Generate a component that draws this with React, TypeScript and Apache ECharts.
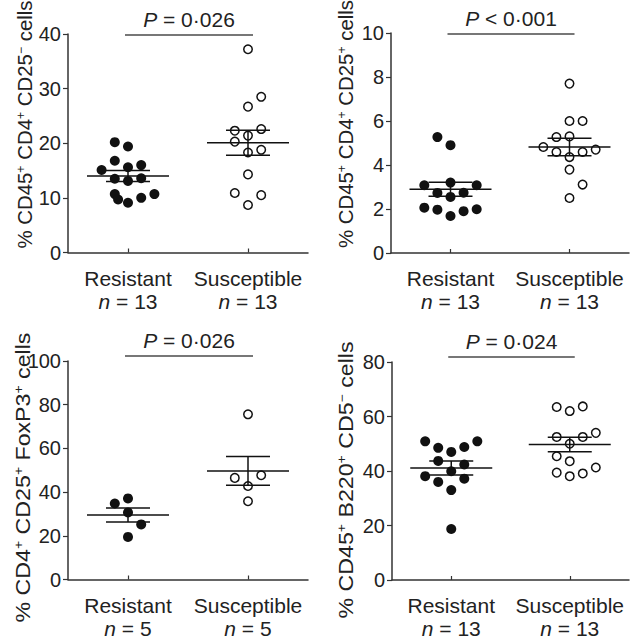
import React, { useEffect, useRef } from "react";
import * as echarts from "echarts";

// ---- data ----
const categories = ["Resistant", "Susceptible"];
const nCounts = [
  [13, 13],
  [13, 13],
  [5, 5],
  [13, 13],
];
const pLabels = ["= 0·026", "< 0·001", "= 0·026", "= 0·024"];
const yMaxes = [40, 10, 100, 80];
const yIntervals = [10, 2, 20, 20];

// Panel A: % CD45+ CD4+ CD25− cells
const aResistant = [20.2, 19.4, 16.8, 15.1, 15.6, 16.0, 13.5, 13.1, 13.6, 10.7, 10.7, 10.0, 9.7, 9.1];
const aSusceptible = [37.2, 28.5, 26.7, 22.3, 22.6, 21.4, 20.3, 18.8, 18.3, 14.3, 10.9, 10.5, 8.7];
// Panel B: % CD45+ CD4+ CD25+ cells
const bResistant = [5.27, 4.9, 3.08, 3.2, 3.08, 2.73, 2.74, 2.55, 2.06, 1.97, 1.99, 1.9, 1.68];
const bSusceptible = [7.7, 6.0, 6.0, 5.27, 5.3, 4.82, 4.7, 4.59, 4.59, 4.36, 3.79, 3.11, 2.5];
// Panel C: % CD4+ CD25+ FoxP3+ cells
const cResistant = [34.8, 37.1, 30.7, 25.2, 19.5];
const cSusceptible = [75.6, 46.5, 47.7, 42.8, 35.8];
// Panel D: % CD45+ B220+ CD5− cells
const dResistant = [50.9, 50.9, 48.5, 48.8, 47.0, 43.7, 42.4, 39.9, 38.1, 37.2, 36.0, 33.0, 18.7];
const dSusceptible = [63.5, 62.0, 63.7, 52.5, 52.5, 54.0, 50.0, 45.4, 43.6, 39.4, 38.1, 39.1, 41.3];

// group means and SEM
const means = [
  [14.0, 20.1],
  [2.9, 4.82],
  [29.5, 49.7],
  [41.1, 49.7],
];
const sems = [
  [1.0, 2.3],
  [0.32, 0.4],
  [3.2, 6.6],
  [2.6, 2.65],
];

// beeswarm slots (horizontal jitter, in dot widths)
const aResistantSlots = [-1, 0, -1, -2, 0, 1, -1, 0, 1, -1, 2, 1, -0.75, 0];
const aSusceptibleSlots = [0, 1, 0, -1, 1, 0, -1, 1, 0, 0, -1, 1, 0];
const bResistantSlots = [-1, 0, -2, 0, 2, -1, 1, 0, -2, -1, 2, 1, 0];
const bSusceptibleSlots = [0, 0, 1, -1, 0, -2, 2, -1, 1, 0, 0, 1, 0];
const cResistantSlots = [-1, 0, 0, 1, 0];
const cSusceptibleSlots = [0, -1, 1, 0, 0];
const dResistantSlots = [-2, 2, -1, 1, 0, -1, 1, 0, -2, 1, -1, 0, 0];
const dSusceptibleSlots = [-1, 0, 1, -1, 1, 2, 0, -1, 0, -1, 0, 1, 2];

const yTitles = [
  "{t|% CD45}{s|+}{t| CD4}{s|+}{t| CD25}{s|−}{t| cells}",
  "{t|% CD45}{s|+}{t| CD4}{s|+}{t| CD25}{s|+}{t| cells}",
  "{t|% CD4}{s|+}{t| CD25}{s|+}{t| FoxP3}{s|+}{t| cells}",
  "{t|% CD45}{s|+}{t| B220}{s|+}{t| CD5}{s|−}{t| cells}",
];

const panelData = [
  [aResistant, aSusceptible, aResistantSlots, aSusceptibleSlots],
  [bResistant, bSusceptible, bResistantSlots, bSusceptibleSlots],
  [cResistant, cSusceptible, cResistantSlots, cSusceptibleSlots],
  [dResistant, dSusceptible, dResistantSlots, dSusceptibleSlots],
];

// ---- layout / style ----
const FONT = "'Liberation Sans', Arial, Helvetica, sans-serif";
const INK = "#111";
const AXIS = "#333";
const SLOT = 0.11;
const grids = [
  { left: 68, top: 34, width: 240, height: 218.5 },
  { left: 391, top: 33, width: 238, height: 220 },
  { left: 68, top: 361, width: 240, height: 218.5 },
  { left: 392, top: 362, width: 237, height: 218 },
];
const sigOffsets = [1, 1, -5, -5];
// [x, y, stretch along text]
const titlePos = [
  [25, 124.5, 1.02],
  [346, 124, 1.02],
  [23, 477.5, 1.16],
  [346, 480, 1.16],
];

function buildOption() {
  const xAxis: any[] = [];
  const yAxis: any[] = [];
  const series: any[] = [];
  const graphic: any[] = [];

  grids.forEach((g, i) => {
    const counts = nCounts[i];
    xAxis.push({
      type: "category",
      gridIndex: i,
      data: categories,
      boundaryGap: true,
      axisLine: { show: true, lineStyle: { color: AXIS, width: 1.5 } },
      axisTick: { show: true, alignWithLabel: true, inside: true, length: 4, lineStyle: { color: AXIS, width: 1.2 } },
      axisLabel: {
        margin: 14,
        interval: 0,
        formatter: (v: string, idx: number) => `{a|${v}}\n{n|n}{a| = ${counts[idx]}}`,
        rich: {
          a: { fontSize: 21, fontFamily: FONT, color: "#222", lineHeight: 23 },
          n: { fontSize: 21, fontFamily: FONT, color: "#222", lineHeight: 23, fontStyle: "italic" },
        },
      },
      splitLine: { show: false },
    });
    xAxis.push({ type: "value", gridIndex: i, min: 0.5, max: 2.5, show: false });
    yAxis.push({
      type: "value",
      gridIndex: i,
      min: 0,
      max: yMaxes[i],
      interval: yIntervals[i],
      axisLine: { show: true, lineStyle: { color: AXIS, width: 1.5 } },
      axisTick: { show: true, length: 5, lineStyle: { color: AXIS, width: 1.2 } },
      axisLabel: { fontSize: 20, fontFamily: FONT, color: "#222", margin: 7 },
      splitLine: { show: false },
    });

    const [res, sus, resSlots, susSlots] = panelData[i] as number[][];
    series.push({
      type: "scatter",
      xAxisIndex: 2 * i + 1,
      yAxisIndex: i,
      symbol: "circle",
      symbolSize: 10,
      itemStyle: { color: INK, opacity: 1 },
      data: res.map((v, k) => [1 + resSlots[k] * SLOT, v]),
      z: 2,
    });
    series.push({
      type: "scatter",
      xAxisIndex: 2 * i + 1,
      yAxisIndex: i,
      symbol: "circle",
      symbolSize: 8.5,
      itemStyle: { color: "#fff", borderColor: INK, borderWidth: 1.5, opacity: 1 },
      data: sus.map((v, k) => [2 + susSlots[k] * SLOT, v]),
      z: 2,
    });
    series.push({
      type: "custom",
      xAxisIndex: 2 * i + 1,
      yAxisIndex: i,
      clip: false,
      z: 3,
      data: [
        [1, means[i][0], sems[i][0]],
        [2, means[i][1], sems[i][1]],
      ],
      renderItem: (params: any, api: any) => {
        const x = api.value(0);
        const m = api.value(1);
        const s = api.value(2);
        const c = api.coord([x, m]);
        const t = api.coord([x, m + s]);
        const b = api.coord([x, m - s]);
        const st = { stroke: INK, lineWidth: 1.5, fill: null };
        return {
          type: "group",
          children: [
            { type: "line", shape: { x1: c[0] - 41, y1: c[1], x2: c[0] + 41, y2: c[1] }, style: st },
            { type: "line", shape: { x1: t[0] - 22, y1: t[1], x2: t[0] + 22, y2: t[1] }, style: st },
            { type: "line", shape: { x1: b[0] - 22, y1: b[1], x2: b[0] + 22, y2: b[1] }, style: st },
            { type: "line", shape: { x1: t[0], y1: t[1], x2: b[0], y2: b[1] }, style: st },
          ],
        };
      },
    });
    const off = sigOffsets[i];
    const pText = pLabels[i];
    series.push({
      type: "custom",
      xAxisIndex: 2 * i + 1,
      yAxisIndex: i,
      clip: false,
      z: 3,
      data: [[1, 2, yMaxes[i]]],
      renderItem: (params: any, api: any) => {
        const p1 = api.coord([api.value(0), api.value(2)]);
        const p2 = api.coord([api.value(1), api.value(2)]);
        const y = p1[1] + off;
        return {
          type: "group",
          children: [
            {
              type: "line",
              shape: { x1: p1[0] - 3, y1: y, x2: p2[0] + 5, y2: y },
              style: { stroke: "#777", lineWidth: 2 },
            },
            {
              type: "text",
              x: (p1[0] + p2[0]) / 2 + 1,
              y: y - 16,
              style: {
                text: `{i|P}{r| ${pText}}`,
                align: "center",
                verticalAlign: "middle",
                rich: {
                  i: { fontSize: 21, fontFamily: FONT, fill: "#222", fontStyle: "italic" },
                  r: { fontSize: 21, fontFamily: FONT, fill: "#222" },
                },
              },
            },
          ],
        };
      },
    });

    graphic.push({
      type: "text",
      x: titlePos[i][0],
      y: titlePos[i][1],
      rotation: Math.PI / 2,
      scaleX: titlePos[i][2],
      style: {
        text: yTitles[i],
        align: "center",
        verticalAlign: "middle",
        rich: {
          t: { fontSize: 20, fontFamily: FONT, fill: "#222", lineHeight: 20, verticalAlign: "bottom" },
          s: { fontSize: 12, fontFamily: FONT, fill: "#222", lineHeight: 20, verticalAlign: "top" },
        },
      },
    });
  });

  return {
    animation: false,
    backgroundColor: "#fff",
    grid: grids.map((g) => ({ ...g, containLabel: false })),
    xAxis,
    yAxis,
    series,
    graphic,
  };
}

export default function App() {
  const ref = useRef<HTMLDivElement>(null);
  useEffect(() => {
    if (!ref.current) return;
    const chart = echarts.init(ref.current, undefined, { renderer: "svg" });
    chart.setOption(buildOption() as any);
    return () => chart.dispose();
  }, []);
  return (
    <div
      ref={ref}
      style={{ position: "absolute", left: 0, top: 0, width: 634, height: 640, background: "#fff" }}
    />
  );
}
